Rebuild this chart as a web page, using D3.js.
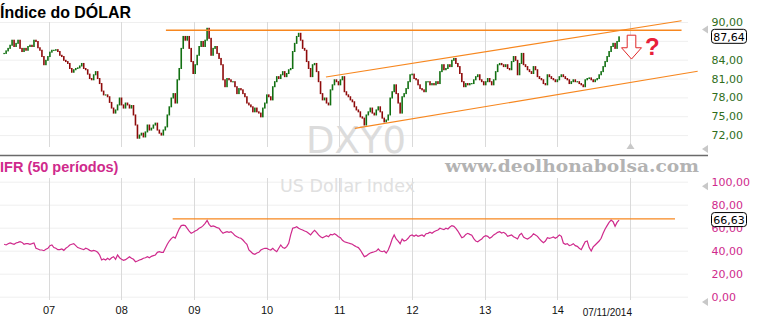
<!DOCTYPE html>
<html>
<head>
<meta charset="utf-8">
<script src="https://cdn.jsdelivr.net/npm/d3@7"></script>
<style>
  body { margin: 0; background: #fff; }
  svg { display: block; }
</style>
</head>
<body>
<svg width="760" height="320"></svg>
<script>
// fechamentos (periodos de ~10 dias) do DXY
var closes = [
  85.0, 85.4, 85.8, 86.3, 87.1, 86.1, 86.6, 87.1, 85.8, 85.3,
  85.8, 85.5, 86.1, 86.3, 86.1, 87.1, 86.9, 85.9, 85.5, 84.5,
  83.2, 83.9, 84.5, 85.2, 85.5, 85.5, 85.6, 85.3, 84.7, 84.5,
  83.9, 83.7, 83.4, 82.6, 82.0, 82.4, 82.6, 82.7, 83.0, 83.4,
  82.6, 82.4, 81.7, 81.0, 80.8, 81.6, 82.1, 81.0, 80.2, 79.0,
  78.4, 78.4, 78.1, 77.2, 76.3, 75.5, 76.0, 76.8, 77.9, 76.8,
  76.3, 77.1, 76.8, 76.3, 76.7, 75.2, 73.6, 71.5, 72.0, 72.3,
  71.7, 72.5, 73.6, 72.8, 73.1, 73.6, 73.9, 72.8, 72.3, 72.0,
  72.8, 73.3, 75.2, 76.5, 77.9, 78.6, 77.1, 80.8, 82.6, 85.8,
  87.7, 87.1, 87.7, 85.8, 83.7, 81.8, 83.2, 84.7, 86.1, 86.9,
  86.1, 87.1, 89.0, 87.4, 84.7, 85.8, 86.1, 85.0, 84.2, 83.2,
  80.8, 79.7, 81.0, 80.8, 80.5, 80.5, 79.7, 78.6, 79.4, 79.2,
  78.6, 78.1, 77.1, 76.8, 76.5, 75.7, 76.3, 75.7, 75.5, 74.9,
  76.3, 77.1, 78.4, 78.1, 77.6, 79.7, 80.5, 81.3, 81.0, 81.6,
  82.1, 81.3, 81.8, 82.4, 82.6, 85.3, 86.6, 87.7, 88.2, 87.1,
  85.8, 85.5, 83.7, 82.6, 81.3, 83.2, 83.4,
  82.1, 80.5, 78.6, 77.6, 77.9, 77.1, 76.8, 79.2, 80.0, 80.8,
  80.5, 80.0, 80.8, 81.3, 78.9, 78.4, 78.1, 77.6, 77.3, 76.5,
  76.0, 75.7, 74.9, 74.7, 73.6, 75.2, 75.7, 76.3, 75.5, 75.2,
  76.0, 76.5, 75.7, 74.7, 74.1, 74.4, 75.2, 77.9, 78.9, 80.0,
  78.6, 77.1, 75.5, 78.1, 78.6, 79.4, 80.5, 81.6, 81.7, 81.0,
  80.8, 80.0, 79.4, 79.2, 78.9, 80.5, 80.5, 80.0, 80.2, 80.0,
  80.5, 80.2, 82.1, 83.2, 82.4, 82.6, 83.2, 82.9, 83.9, 84.2,
  83.4, 82.9, 81.8, 80.5, 79.7, 80.2, 80.0, 80.2,
  80.2, 80.8, 81.3, 81.6, 80.8, 80.5, 80.0, 80.5, 81.0, 80.5,
  80.0, 80.8, 82.1, 83.2, 83.4, 83.2, 82.9, 83.2, 82.6, 82.4,
  83.7, 84.5, 83.9, 81.6, 83.4, 85.0, 83.2, 82.9, 82.4, 82.1,
  81.8, 82.9, 82.4, 81.3, 81.0, 80.8, 80.2, 80.0, 81.6, 81.3,
  81.0, 80.8, 80.5, 80.8, 81.3, 81.6, 81.3, 81.0, 80.8, 80.2,
  80.5, 80.8, 80.5, 80.5, 80.2, 80.0, 79.7, 80.8, 81.0, 81.1,
  80.8, 80.5, 80.8, 81.0, 81.6, 82.1, 82.9, 83.7, 84.5, 85.3,
  86.1, 86.6, 85.8, 86.9, 87.64
];

// IFR 50 periodos
var ifr = [
  45.6, 45.0, 46.1, 46.7, 46.1, 45.6, 46.7, 47.2, 47.8, 47.2,
  45.6, 46.1, 46.1, 45.6, 46.1, 46.7, 42.1, 41.5, 40.6, 40.6,
  40.0, 41.2, 42.1, 44.4, 45.0, 42.7, 42.1, 40.9, 40.9, 41.5,
  40.3, 42.1, 43.3, 45.0, 45.6, 46.1, 44.4, 42.7, 42.1, 41.5,
  40.9, 42.1, 41.5, 40.3, 39.7, 40.3, 39.7, 38.6, 36.3, 31.9,
  32.8, 31.9, 33.4, 32.2, 33.9, 34.8, 32.5, 36.3, 33.9, 32.5,
  31.6, 32.2, 33.4, 34.8, 33.4, 32.5, 30.4, 31.0, 31.9, 32.5,
  33.4, 33.9, 34.8, 33.9, 35.1, 35.7, 36.3, 38.6, 39.1, 38.6,
  38.6, 42.1, 45.6, 48.4, 50.5, 52.0, 51.0, 55.1, 59.0, 61.8,
  62.3, 61.8, 59.5, 57.1, 55.1, 56.0, 57.1, 58.0, 59.5, 60.3,
  61.8, 63.8, 66.4, 62.9, 60.9, 61.5, 60.9, 60.0, 59.5, 57.1,
  55.1, 56.0, 56.5, 56.0, 56.5, 55.1, 53.1, 52.2, 51.3, 50.8,
  49.3, 47.2, 45.6, 40.6, 39.1, 37.4, 36.9, 38.0, 38.6, 40.6,
  41.5, 42.1, 42.1, 41.0, 40.6, 42.1, 40.3, 39.1, 42.1, 45.0,
  42.7, 42.1, 43.5, 46.4, 53.7, 59.5, 60.0, 60.9, 59.5, 58.6,
  58.0, 57.1, 56.5, 55.1, 53.7, 56.0, 57.7,
  56.0, 53.7, 52.2, 51.3, 52.2, 53.1, 52.2, 54.2, 53.7, 54.8,
  53.7, 52.2, 51.3, 49.0, 47.8, 47.2, 46.7, 46.1, 45.6, 44.4,
  43.5, 42.7, 40.6, 37.7, 34.8, 35.5, 36.9, 38.0, 38.6, 39.1,
  39.7, 41.5, 39.7, 39.1, 39.7, 38.0, 40.6, 45.0, 50.2, 53.7,
  50.2, 48.4, 46.1, 50.2, 48.4, 49.0, 50.8, 53.1, 53.7, 52.5,
  53.7, 52.5, 53.1, 53.7, 52.5, 54.8, 55.1, 56.0, 55.1, 56.5,
  57.4, 58.0, 59.5, 58.9, 58.3, 59.5, 58.9, 60.6, 61.8, 61.2,
  59.5, 57.1, 54.2, 51.3, 52.2, 54.2, 55.1, 54.2,
  53.4, 50.5, 48.4, 47.8, 49.0, 50.2, 52.2, 53.1, 52.5, 50.8,
  51.9, 53.7, 54.8, 56.0, 56.5, 55.4, 56.0, 54.8, 52.5, 53.1,
  53.7, 52.2, 51.3, 50.2, 53.7, 55.1, 51.9, 50.8, 50.2, 51.3,
  52.5, 54.8, 53.7, 52.5, 50.2, 48.4, 47.0, 48.4, 51.3, 50.8,
  51.3, 51.9, 50.8, 51.9, 53.7, 52.5, 46.7, 45.6, 46.1, 44.4,
  45.0, 46.1, 44.4, 43.8, 42.1, 40.9, 44.4, 47.8, 48.4, 42.7,
  39.7, 43.3, 45.0, 46.7, 48.4, 50.8, 55.1, 58.9, 61.8, 64.6,
  66.7, 65.2, 61.2, 64.6, 66.63
];

var yearTicks = [2007, 2008, 2009, 2010, 2011, 2012, 2013, 2014, 2015];
var yearLabels = ["07", "08", "09", "10", "11", "12", "13", "14", ""];
var priceTicks = [72, 75, 78, 81, 84, 87, 90];
var priceLabelTicks = [72, 75, 78, 81, 84, 90];   // 87 fica sob a caixa do ultimo valor
var ifrTicks = [0, 20, 40, 60, 80, 100];
var lastDateLabel = "07/11/2014";

// linhas de tendencia (data, preco)
var topLine = [["2008-08-13", 88.68], ["2015-09-17", 88.68]];
var channelHigh = [["2010-10-26", 81.25], ["2015-09-17", 90.2]];
var channelLow = [["2011-03-20", 73.07], ["2015-12-07", 82.15]];
var ifrLine = [["2008-09-16", 67.6], ["2015-08-15", 67.6]];

var svg = d3.select("svg");
var fontAxis = "DejaVu Sans, Verdana, sans-serif";
var green = "#2f6e1c", pink = "#cf2a8c", orange = "#f7871f";

var endDate = new Date(2014, 10, 7);
var dates = closes.map(function(d, i) {
  return d3.timeDay.offset(endDate, -(closes.length - 1 - i) * 10);
});
var parse = d3.timeParse("%Y-%m-%d");

var x = d3.scaleTime()
  .domain([new Date(2007, 0, 1), new Date(2015, 0, 1)])
  .range([48.5, 630]);
var yP = d3.scaleLinear().domain([70.1, 90]).range([147, 22]);
var yR = d3.scaleLinear().domain([0, 100]).range([296.7, 181.7]);

var fmt = function(v) { return d3.format(".2f")(v).replace(".", ","); };

// grades
var grid = svg.append("g");
grid.selectAll("line.hp").data(priceTicks).enter().append("line")
  .attr("x1", 0).attr("x2", 688)
  .attr("y1", function(d) { return yP(d) + 0.5; }).attr("y2", function(d) { return yP(d) + 0.5; })
  .style("stroke", "#efefef");
grid.selectAll("line.hr").data(ifrTicks).enter().append("line")
  .attr("x1", 0).attr("x2", 688)
  .attr("y1", function(d) { return yR(d) + 0.5; }).attr("y2", function(d) { return yR(d) + 0.5; })
  .style("stroke", "#efefef");
var yearDates = yearTicks.map(function(y) { return new Date(y, 0, 1); });
grid.selectAll("line.vp").data(yearDates).enter().append("line")
  .attr("x1", function(d) { return Math.round(x(d)) + 0.5; })
  .attr("x2", function(d) { return Math.round(x(d)) + 0.5; })
  .attr("y1", 22).attr("y2", 147)
  .style("stroke", "#dadada");
grid.selectAll("line.vr").data(yearDates).enter().append("line")
  .attr("x1", function(d) { return Math.round(x(d)) + 0.5; })
  .attr("x2", function(d) { return Math.round(x(d)) + 0.5; })
  .attr("y1", 178).attr("y2", 300)
  .style("stroke", "#dadada");

// marcas d'agua
svg.append("text").attr("x", 306).attr("y", 153)
  .style("font-family", fontAxis).style("font-size", "37px").style("fill", "#dcdcdc")
  .text("DXY0");
svg.append("text").attr("x", 280).attr("y", 192)
  .style("font-family", fontAxis).style("font-size", "17.5px").style("fill", "#e0e0e0")
  .text("US Dollar Index");
svg.append("text").attr("x", 445).attr("y", 172)
  .attr("textLength", 254).attr("lengthAdjust", "spacingAndGlyphs")
  .style("font-family", "DejaVu Serif, serif").style("font-weight", "bold")
  .style("font-size", "16px").style("fill", "#b3b3b3")
  .text("www.deolhonabolsa.com");

// separador
svg.append("line").attr("x1", 0).attr("x2", 708).attr("y1", 155.5).attr("y2", 155.5)
  .style("stroke", "#6a6a6a").style("stroke-width", 1.3);

// candles
var candles = svg.append("g");
candles.selectAll("rect").data(closes).enter().append("rect")
  .attr("x", function(d, i) { return x(dates[i]) - 0.8; })
  .attr("width", 1.6)
  .attr("y", function(d, i) {
    var o = i > 0 ? closes[i - 1] : d;
    return yP(Math.max(o, d)) - 0.5;
  })
  .attr("height", function(d, i) {
    var o = i > 0 ? closes[i - 1] : d;
    return Math.max(1.2, Math.abs(yP(o) - yP(d)) + 1);
  })
  .style("fill", function(d, i) {
    var o = i > 0 ? closes[i - 1] : d;
    return d >= o ? "#127012" : "#8e0a0a";
  });

// linhas de tendencia
function trend(pts, sc, w) {
  svg.append("line")
    .attr("x1", x(parse(pts[0][0]))).attr("y1", sc(pts[0][1]))
    .attr("x2", x(parse(pts[1][0]))).attr("y2", sc(pts[1][1]))
    .style("stroke", orange).style("stroke-width", w);
}
trend(topLine, yP, 1.4);
trend(channelHigh, yP, 1.1);
trend(channelLow, yP, 1.1);
trend(ifrLine, yR, 1.2);

// linha IFR
var line = d3.line()
  .x(function(d, i) { return x(dates[i]); })
  .y(function(d) { return yR(d); });
svg.append("path").datum(ifr).attr("d", line)
  .style("fill", "none").style("stroke", pink).style("stroke-width", 1.2);

// eixos
var axP = svg.append("g").attr("transform", "translate(711.5,0)")
  .call(d3.axisRight(yP).tickValues(priceLabelTicks).tickSize(0).tickPadding(0).tickFormat(fmt));
var axR = svg.append("g").attr("transform", "translate(711.5,0)")
  .call(d3.axisRight(yR).tickValues(ifrTicks).tickSize(0).tickPadding(0).tickFormat(fmt));
[axP, axR].forEach(function(a, k) {
  a.select(".domain").remove();
  a.selectAll("text").style("font-family", fontAxis).style("font-size", "11px")
    .style("fill", k === 0 ? green : pink);
});
var axX = svg.append("g").attr("transform", "translate(0,306)")
  .call(d3.axisBottom(x).tickValues(yearDates).tickSize(0).tickPadding(0)
    .tickFormat(function(d, i) { return yearLabels[i]; }));
axX.select(".domain").remove();
axX.selectAll("text").style("font-family", "Liberation Sans, Arial, sans-serif")
  .style("font-size", "11px").style("fill", "#111");
svg.append("text").attr("x", x(new Date(2015, 0, 1)) + 2).attr("y", 316)
  .attr("text-anchor", "end")
  .style("font-family", "Liberation Sans, Arial, sans-serif").style("font-size", "10px")
  .style("fill", "#111").text(lastDateLabel);

// caixas de ultimo valor (cobrem parte do rotulo vizinho, como no original)
function valueBox(v, sc) {
  var cy = sc(v);
  svg.append("rect").attr("x", 711.5).attr("y", cy - 7.5).attr("width", 35).attr("height", 14)
    .attr("rx", 3).style("fill", "#fff").style("stroke", "#000");
  svg.append("text").attr("x", 729).attr("y", cy + 4).attr("text-anchor", "middle")
    .style("font-family", fontAxis).style("font-size", "11px").style("fill", "#000")
    .text(fmt(v));
}
valueBox(closes[closes.length - 1], yP);
valueBox(ifr[ifr.length - 1], yR);

// triangulos de rolagem
function tri(cx, cy, rot) {
  svg.append("path").attr("d", "M-3,0L3,-4L3,4Z")
    .attr("transform", "translate(" + cx + "," + cy + ") rotate(" + rot + ")")
    .style("fill", "#c8c8c8");
}
tri(705, yP(88.8), 0);
tri(705, 149, 0);
tri(705, yR(96), 0);
tri(705, 302, 0);
tri(x(new Date(2015, 0, 1)) + 0.5, 146, 90);

// seta e interrogacao
var ax = x(new Date(2015, 0, 1)) + 1.5, aTop = yP(87.9), aMid = yP(85.9), aTip = yP(84.1);
svg.append("path")
  .attr("d", "M" + (ax - 4.3) + "," + aTop + "L" + (ax + 4.3) + "," + aTop +
    "L" + (ax + 4.3) + "," + aMid + "L" + (ax + 10) + "," + aMid +
    "L" + ax + "," + aTip + "L" + (ax - 10) + "," + aMid +
    "L" + (ax - 4.3) + "," + aMid + "Z")
  .style("fill", "#fff").style("stroke", "#e02828").style("stroke-width", 1);
svg.append("text").attr("x", 645).attr("y", 55)
  .style("font-family", "Liberation Sans, Arial, sans-serif").style("font-weight", "bold")
  .style("font-size", "24px").style("fill", "#e8203a").text("?");

// titulos
svg.append("text").attr("x", 0).attr("y", 18)
  .attr("textLength", 131).attr("lengthAdjust", "spacingAndGlyphs")
  .style("font-family", "Liberation Sans, Arial, sans-serif").style("font-weight", "bold")
  .style("font-size", "16.5px").style("fill", "#000").text("Índice do DÓLAR");
svg.append("text").attr("x", 0).attr("y", 172)
  .style("font-family", "Liberation Sans, Arial, sans-serif").style("font-weight", "bold")
  .style("font-size", "14.5px").style("fill", pink).text("IFR (50 períodos)");
</script>
</body>
</html>
